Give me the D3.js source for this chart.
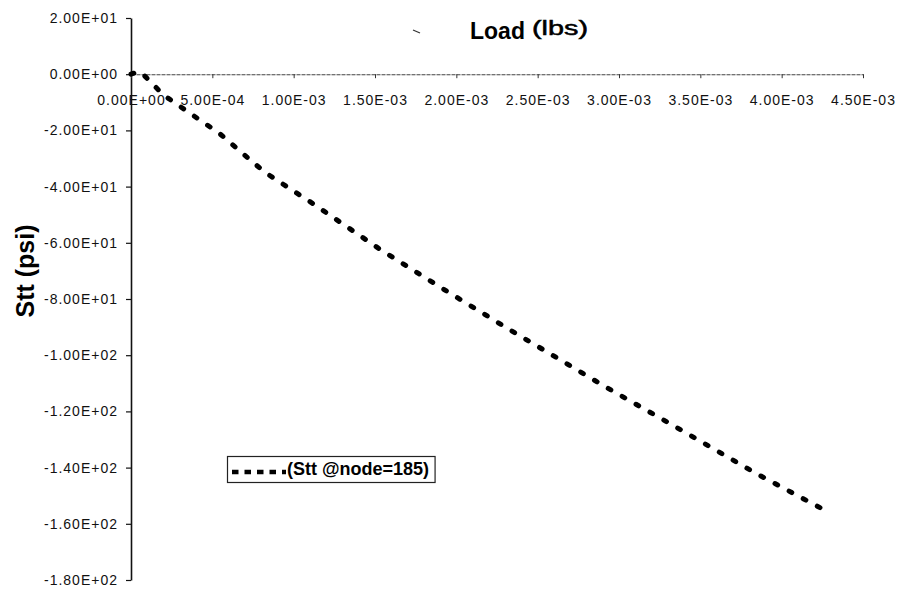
<!DOCTYPE html>
<html>
<head>
<meta charset="utf-8">
<script src="https://cdn.jsdelivr.net/npm/d3@7"></script>
<style>
  html, body { margin: 0; padding: 0; background: #fff; }
  svg { display: block; font-family: Arial, "Liberation Sans", sans-serif; }
</style>
</head>
<body>
<svg id="chart" width="898" height="593"></svg>
<script>
// ---- data ----
const loadValues = [0, 0.00004, 0.00006, 0.0002, 0.00036, 0.00054, 0.00082, 0.00113, 0.00152, 0.00189, 0.00233, 0.00293, 0.00336, 0.00384, 0.00425];
const sttValues  = [0, 0.8, 0.8, -7.4, -13.8, -20.9, -34.8, -46.5, -61.9, -75.4, -91.0, -111.7, -125.9, -142.0, -154.7];
const xTicks = [0, 0.0005, 0.001, 0.0015, 0.002, 0.0025, 0.003, 0.0035, 0.004, 0.0045];
const yTicks = [20, 0, -20, -40, -60, -80, -100, -120, -140, -160, -180];
const seriesName = "(Stt @node=185)";
const titleMain = "Load";
const titleUnit = "(lbs)";
const yTitle = "Stt (psi)";

const points = loadValues.map((v, i) => ({ x: v, y: sttValues[i] }));

function sci(v) {
  const [m, e] = v.toExponential(2).split("e");
  const sign = e[0] === "-" ? "-" : "+";
  const digits = String(Math.abs(parseInt(e, 10))).padStart(2, "0");
  return m + "E" + sign + digits;
}

const svg = d3.select("#chart");
const x = d3.scaleLinear().domain([0, 0.0045]).range([131, 863]);
const y = d3.scaleLinear().domain([-180, 20]).range([580, 18]);

// y axis
const yAxis = svg.append("g")
  .attr("transform", `translate(${x(0)},0)`)
  .call(d3.axisLeft(y).tickValues(yTicks).tickFormat(sci).tickSizeInner(5).tickSizeOuter(0).tickPadding(8));
yAxis.select(".domain").attr("stroke", "#111").attr("stroke-width", 1.6);
yAxis.selectAll(".tick line").attr("stroke", "#111").attr("stroke-width", 1.2);
yAxis.selectAll("text").attr("font-size", 14).attr("letter-spacing", 1).attr("fill", "#111")
  .attr("font-family", "Arial, 'Liberation Sans', sans-serif");

// x axis at y = 0
const xAxis = svg.append("g")
  .attr("transform", `translate(0,${y(0)})`)
  .call(d3.axisBottom(x).tickValues(xTicks).tickFormat(sci).tickSizeInner(4).tickSizeOuter(0));
xAxis.select(".domain").attr("stroke", "#444").attr("stroke-width", 1.1).attr("stroke-dasharray", "4,1");
xAxis.selectAll(".tick line").attr("stroke", "#333").attr("stroke-width", 1);
xAxis.selectAll("text").attr("font-size", 14).attr("letter-spacing", 1).attr("fill", "#111")
  .attr("y", 21).attr("font-family", "Arial, 'Liberation Sans', sans-serif");

// series line
const line = d3.line().x(d => x(d.x)).y(d => y(d.y));
svg.append("path")
  .datum(points)
  .attr("d", line)
  .attr("fill", "none")
  .attr("stroke", "#000")
  .attr("stroke-width", 5)
  .attr("stroke-linecap", "round")
  .attr("stroke-dasharray", "3,13");

// title
const title = svg.append("text").attr("x", 470).attr("y", 39).attr("fill", "#000");
title.append("tspan").attr("font-size", 23).attr("font-weight", "bold").text(titleMain);
title.append("tspan").attr("x", 532).attr("y", 35).attr("font-size", 20)
  .attr("stroke", "#000").attr("stroke-width", 0.5)
  .attr("textLength", 56).attr("lengthAdjust", "spacingAndGlyphs").text(titleUnit);

// small stray mark near title (as in the scanned original)
svg.append("path").attr("d", "M413,30 L420,33").attr("stroke", "#333").attr("stroke-width", 1.3).attr("fill", "none");

// y title
svg.append("text")
  .attr("transform", "translate(34,271) rotate(-90)")
  .attr("text-anchor", "middle")
  .attr("font-size", 25)
  .attr("font-weight", "bold")
  .attr("fill", "#000")
  .text(yTitle);

// legend
const lg = svg.append("g");
const legendText = lg.append("text")
  .attr("x", 287).attr("y", 475)
  .attr("font-size", 18).attr("font-weight", "bold").attr("fill", "#000")
  .text(seriesName);
const tw = legendText.node().getComputedTextLength();
lg.insert("rect", "text")
  .attr("x", 227.5).attr("y", 456.5)
  .attr("width", 287 + tw + 6 - 227.5).attr("height", 26)
  .attr("fill", "#fff").attr("stroke", "#222").attr("stroke-width", 1.2);
lg.append("line")
  .attr("x1", 232).attr("x2", 286).attr("y1", 472).attr("y2", 472)
  .attr("stroke", "#000").attr("stroke-width", 4.5)
  .attr("stroke-dasharray", "6.5,6");
</script>
</body>
</html>
